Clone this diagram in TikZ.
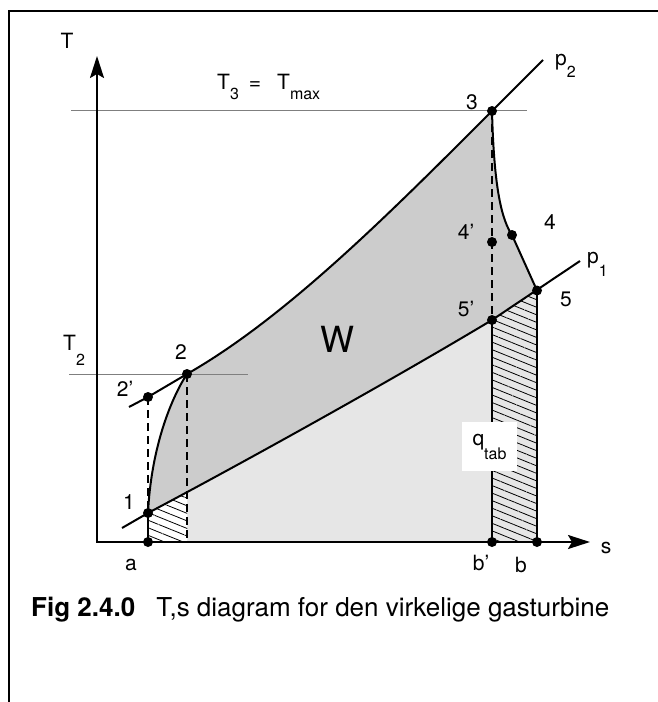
\documentclass[tikz,border=0pt]{standalone}
\usepackage{fontspec}
\setmainfont{TeX Gyre Heros}
\usetikzlibrary{arrows.meta, patterns.meta, positioning}
\definecolor{workgray}{HTML}{CCCCCC}
\definecolor{heatgray}{HTML}{E6E6E6}
\definecolor{levelgray}{HTML}{7F7F7F}
\newcommand{\lsub}[2][10pt]{\raisebox{-#1}{\fontsize{16}{16}\selectfont #2}}
\tikzset{
  curve/.style={line width=2pt},
  axis/.style={line width=2pt, {Stealth[length=22pt, width=14pt, inset=4pt]}-{Stealth[length=22pt, width=14pt, inset=4pt]}},
  level/.style={line width=1pt, levelgray},
  drop/.style={line width=2pt, dash pattern=on 8pt off 5pt},
  lbl/.style={font=\fontsize{21}{21}\selectfont, inner sep=0pt},
  hatch/.style={pattern={Lines[angle=-22, distance=7pt, line width=0.8pt]}},
}
\begin{document}
\begin{tikzpicture}[x=1pt, y=-1pt]
  \useasboundingbox (0,0) rectangle (658,702);
  % frame
  \draw[line width=2.5pt] (670,11) -- (9,11) -- (9,715);

  % states
  \coordinate (s1) at (148,513);
  \coordinate (s2) at (187,374);
  \coordinate (s2s) at (148,397);
  \coordinate (s3) at (492,111);
  \coordinate (s4) at (512,235);
  \coordinate (s4s) at (492,242);
  \coordinate (s5) at (537,290.5);
  \coordinate (s5s) at (492,320);
  \coordinate (sa) at (148,542);
  \coordinate (s2b) at (187,542);
  \coordinate (sbs) at (492,542);
  \coordinate (sb) at (537,542);
  \coordinate (o) at (97,542);
  \coordinate (tend) at (97,56);
  \coordinate (send) at (590,542);
  \coordinate (p2lo) at (129,407);
  \coordinate (p2hi) at (543,60);
  \coordinate (p1lo) at (122,528);
  \coordinate (p1hi) at (580,261);

  % areas
  \fill[heatgray] (s1) .. controls (248,460) and (392,380) .. (s5s) -- (s5) -- (sb) -- (sa) -- cycle;
  \begin{scope}
    \clip (sa) rectangle (187,0);
    \fill[white] (s1) .. controls (248,460) and (392,380) .. (s5s) -- (s5) -- (sb) -- (sa) -- cycle;
    \fill[hatch] (s1) .. controls (248,460) and (392,380) .. (s5s) -- (s5) -- (sb) -- (sa) -- cycle;
  \end{scope}
  \begin{scope}
    \clip (sbs) rectangle (537,0);
    \fill[hatch] (s1) .. controls (248,460) and (392,380) .. (s5s) -- (s5) -- (sb) -- (sa) -- cycle;
  \end{scope}
  \fill[workgray] (s1) .. controls (151,450) and (170,400) .. (s2)
    .. controls (287,317) and (392,211) .. (s3)
    .. controls (494,190) and (502,220) .. (s4) -- (s5) -- (s5s)
    .. controls (392,380) and (248,460) .. (s1) -- cycle;

  % temperature levels
  \coordinate (t3l) at (71,110);
  \coordinate (t3r) at (527,110);
  \coordinate (t2l) at (69,374);
  \coordinate (t2r) at (248,374);
  \draw[level] (t3l) -- (t3r);
  \draw[level] (t2l) -- (t2r);

  % axes
  \draw[axis] (tend) -- (o) -- (send);

  % isobars
  \draw[curve] (p2lo) -- (s2s) -- (s2) .. controls (287,317) and (392,211) .. (s3) -- (p2hi);
  \draw[curve] (p1lo) -- (s1) .. controls (248,460) and (392,380) .. (s5s) -- (p1hi);

  % processes
  \draw[curve] (s1) .. controls (151,450) and (170,400) .. (s2);
  \draw[curve] (s3) .. controls (494,190) and (502,220) .. (s4) -- (s5);
  \draw[curve] (s1) -- (sa);
  \draw[curve] (s5s) -- (sbs);
  \draw[curve] (s5) -- (sb);
  \draw[drop] (s2s) -- (s1);
  \draw[drop] (s2) -- (s2b);
  \draw[drop] (s3) -- (s5s);

  \foreach \p in {s1,s2,s2s,s3,s4,s4s,s5,s5s,sa,sbs,sb}
    \fill (\p) circle (5pt);

  \node[lbl, fill=white, minimum width=55pt, minimum height=49pt] (qtab) at (489.5,446.5) {q\lsub[14pt]{tab}};

  % labels
  \node[lbl] (lT) at (67,41) {T};
  \node[lbl] (ls) at (606,548) {s};
  \node[lbl, anchor=base west] (lTmax) at (217,89) {T\lsub{3}\hspace{10pt}=\hspace{16pt}T\lsub{max}};
  \node[lbl, anchor=base west] (lp2) at (555,65) {p\lsub[12pt]{2}};
  \node[lbl, anchor=base west] (lp1) at (587,263) {p\lsub[13pt]{1}};
  \node[lbl, anchor=base west] (lT2) at (63,350) {T\lsub[15pt]{2}};
  \node[lbl] (l3) at (472,102) {3};
  \node[lbl] (l4) at (550,222) {4};
  \node[lbl] (l4s) at (466,232) {4'};
  \node[lbl] (l5) at (566,299) {5};
  \node[lbl] (l5s) at (466,309) {5'};
  \node[lbl] (l2) at (181,352) {2};
  \node[lbl] (l2s) at (125,389) {2'};
  \node[lbl] (l1) at (129,502) {1};
  \node[font=\fontsize{36}{36}\selectfont, inner sep=0pt] (lW) at (337,339) {W};
  \node[lbl] (la) at (131,565) {a};
  \node[lbl] (lbs) at (481,563) {b'};
  \node[lbl] (lb) at (521,565) {b};

  % caption
  \node[anchor=base west, font=\fontsize{26}{26}\selectfont, inner sep=0pt] (cap) at (31,616)
    {\textbf{Fig 2.4.0}\hspace{21pt}T,s diagram for den virkelige gasturbine};
\end{tikzpicture}
\end{document}
